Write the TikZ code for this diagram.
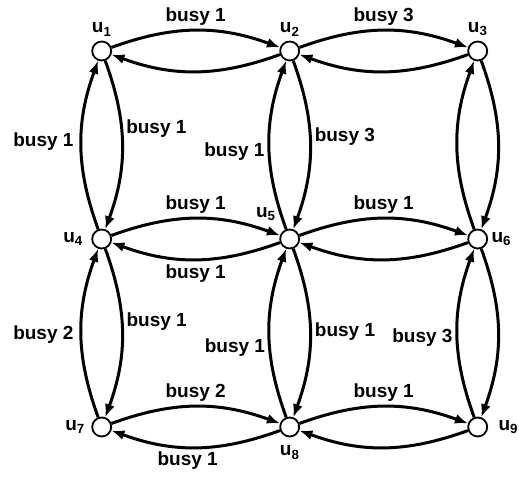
\documentclass[tikz,border=0pt]{standalone}
\usepackage{fontspec}
\setmainfont{Liberation Sans}
\usetikzlibrary{arrows.meta,positioning}

\tikzset{
  every node/.style={font=\fontsize{19}{22}\selectfont\bfseries},
  vertex/.style={circle,draw,line width=1.8pt,fill=white,minimum size=19pt,inner sep=0pt},
  link/.style={line width=3pt,-{Latex[length=13pt,width=10pt]}},
  bend angle=20,
}

\begin{document}
\begin{tikzpicture}[x=1pt,y=1pt,node distance=188pt,on grid]
\useasboundingbox (0,0) rectangle (519,478);
%knoten
\node[vertex,label={[label distance=1pt]above:{u\textsubscript{1}}}] (u1) at (101.7,427) {};
\node[vertex,right=of u1,label={[label distance=1pt]above:{u\textsubscript{2}}}] (u2) {};
\node[vertex,right=of u2,label={[label distance=1pt]above:{u\textsubscript{3}}}] (u3) {};
\node[vertex,below=of u1,label={[label distance=5pt]left:{u\textsubscript{4}}}] (u4) {};
\node[vertex,below=of u2,label={[label distance=8pt]125:{u\textsubscript{5}}}] (u5) {};
\node[vertex,below=of u3,label=right:{u\textsubscript{6}}] (u6) {};
\node[vertex,below=of u4,label={[label distance=3pt]left:{u\textsubscript{7}}}] (u7) {};
\node[vertex,below=of u5,label={[label distance=5pt]below:{u\textsubscript{8}}}] (u8) {};
\node[vertex,below=of u6,label={[label distance=7pt]right:{u\textsubscript{9}}}] (u9) {};
%waagrecht
\draw[link] (u1) to[bend left] node[above] {busy 1} (u2);
\draw[link] (u2) to[bend left] (u1);
\draw[link] (u2) to[bend left] node[above] {busy 3} (u3);
\draw[link] (u3) to[bend left] (u2);
\draw[link] (u4) to[bend left] node[above] {busy 1} (u5);
\draw[link] (u5) to[bend left] node[below] {busy 1} (u4);
\draw[link] (u5) to[bend left] node[above] {busy 1} (u6);
\draw[link] (u6) to[bend left] (u5);
\draw[link] (u7) to[bend left] node[above] {busy 2} (u8);
\draw[link] (u8) to[bend left] node[below,pos=0.55] {busy 1} (u7);
\draw[link] (u8) to[bend left] node[above] {busy 1} (u9);
\draw[link] (u9) to[bend left] (u8);
%senkrecht
\draw[link] (u1) to[bend left] node[right,pos=0.4] {busy 1} (u4);
\draw[link] (u4) to[bend left] node[left,pos=0.52,xshift=-3pt] {busy 1} (u1);
\draw[link] (u2) to[bend left] node[right,pos=0.45] {busy 3} (u5);
\draw[link] (u5) to[bend left] node[left,pos=0.46] {busy 1} (u2);
\draw[link] (u3) to[bend left] (u6);
\draw[link] (u6) to[bend left] (u3);
\draw[link] (u4) to[bend left] node[right,pos=0.43] {busy 1} (u7);
\draw[link] (u7) to[bend left] node[left,pos=0.49,xshift=-3pt] {busy 2} (u4);
\draw[link] (u5) to[bend left] node[right,pos=0.49] {busy 1} (u8);
\draw[link] (u8) to[bend left] node[left,pos=0.41] {busy 1} (u5);
\draw[link] (u6) to[bend left] (u9);
\draw[link] (u9) to[bend left] node[left,pos=0.47] {busy 3} (u6);
\end{tikzpicture}
\end{document}
